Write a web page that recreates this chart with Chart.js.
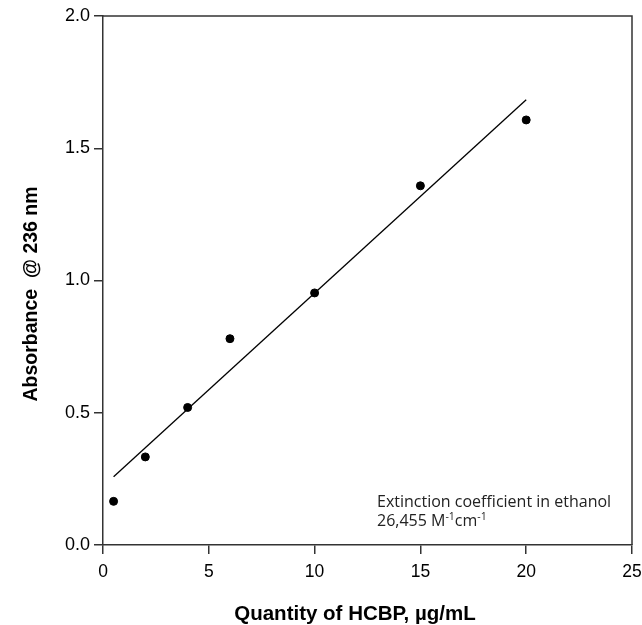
<!DOCTYPE html>
<html>
<head>
<meta charset="utf-8">
<script src="https://cdn.jsdelivr.net/npm/chart.js@4.4.1/dist/chart.umd.min.js"></script>
<style>
  html, body { margin: 0; padding: 0; background: #fff; }
  #wrap { width: 642px; height: 625px; position: relative; }
</style>
</head>
<body>
<div id="wrap"><canvas id="hcbpChart"></canvas></div>
<script>
// HCBP calibration data
const concentrations = [0.5, 2, 4, 6, 10, 15, 20];          // µg/mL
const absorbances = [0.165, 0.333, 0.52, 0.78, 0.953, 1.358, 1.607];
// Fitted line end points
const fitX = [0.5, 20];
const fitY = [0.258, 1.683];

const xTitle = 'Quantity of HCBP, µg/mL';
const yTitle = 'Absorbance  @ 236 nm';
const noteLine1 = 'Extinction coefficient in ethanol';

const points = concentrations.map((c, i) => ({ x: c, y: absorbances[i] }));
const fit = fitX.map((x, i) => ({ x: x, y: fitY[i] }));

const axisColor = '#333';

// Top/right frame, axis titles and the extinction note
const extras = {
  id: 'extras',
  afterDraw(chart) {
    const { ctx, chartArea: a } = chart;
    ctx.save();
    ctx.strokeStyle = axisColor;
    ctx.lineWidth = 1.5;
    ctx.beginPath();
    ctx.moveTo(a.left, a.top);
    ctx.lineTo(a.right, a.top);
    ctx.lineTo(a.right, a.bottom);
    ctx.stroke();

    ctx.fillStyle = '#000';
    ctx.font = 'bold 20.5px "Liberation Sans", Arial, sans-serif';
    ctx.textAlign = 'center';
    ctx.textBaseline = 'alphabetic';
    ctx.fillText(xTitle, 355, 620);

    ctx.save();
    ctx.translate(37, 294);
    ctx.rotate(-Math.PI / 2);
    ctx.font = 'bold 19.5px "Liberation Sans", Arial, sans-serif';
    ctx.fillText(yTitle, 0, 0);
    ctx.restore();

    // note, with superscripts
    ctx.textAlign = 'left';
    ctx.fillStyle = '#222';
    const noteFont = '16px "Open Sans", sans-serif';
    const supFont = '10.5px "Open Sans", sans-serif';
    ctx.font = noteFont;
    ctx.fillText(noteLine1, 377, 507);
    let x = 377;
    const y = 526;
    const parts = [['26,455 M', 0], ['-1', 1], ['cm', 0], ['-1', 1]];
    parts.forEach(([t, sup]) => {
      ctx.font = sup ? supFont : noteFont;
      ctx.fillText(t, x, sup ? y - 6 : y);
      x += ctx.measureText(t).width;
    });
    ctx.restore();
  }
};

const ctx = document.getElementById('hcbpChart').getContext('2d');
const hcbpChart = new Chart(ctx, {
  type: 'scatter',
  data: {
    datasets: [
      {
        label: 'Measured',
        data: points,
        backgroundColor: '#000',
        borderColor: '#000',
        pointRadius: 4,
        pointHoverRadius: 4
      },
      {
        label: 'Fit',
        type: 'line',
        data: fit,
        borderColor: '#000',
        borderWidth: 1.3,
        pointRadius: 0,
        fill: false,
        tension: 0
      }
    ]
  },
  options: {
    responsive: true,
    maintainAspectRatio: false,
    animation: false,
    events: [],
    layout: { padding: { top: 16, right: 10, left: 0, bottom: 0 } },
    plugins: {
      legend: { display: false },
      tooltip: { enabled: false }
    },
    scales: {
      x: {
        type: 'linear',
        min: 0,
        max: 25,
        afterFit: s => { s.height = 80; s.paddingRight = 0; s.paddingLeft = 0; },
        border: { display: true, color: axisColor, width: 1.5 },
        grid: { drawOnChartArea: false, drawTicks: true, tickLength: 9, color: axisColor, lineWidth: 1.5 },
        ticks: {
          stepSize: 5,
          color: '#000',
          padding: 8,
          font: { family: '"Liberation Sans", Arial, sans-serif', size: 17.5 }
        }
      },
      y: {
        min: 0,
        max: 2,
        afterFit: s => { s.width = 103; },
        border: { display: true, color: axisColor, width: 1.5 },
        grid: { drawOnChartArea: false, drawTicks: true, tickLength: 9, color: axisColor, lineWidth: 1.5 },
        ticks: {
          stepSize: 0.5,
          color: '#000',
          padding: 4,
          font: { family: '"Liberation Sans", Arial, sans-serif', size: 18 },
          callback: v => v.toFixed(1)
        }
      }
    }
  },
  plugins: [extras]
});
</script>
</body>
</html>
